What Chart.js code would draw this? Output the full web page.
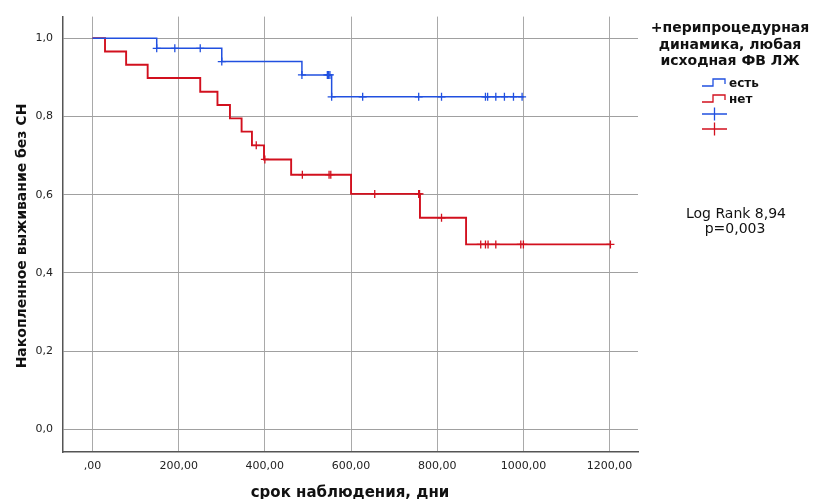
<!DOCTYPE html>
<html>
<head>
<meta charset="utf-8">
<script src="https://cdn.jsdelivr.net/npm/chart.js@4.4.1/dist/chart.umd.min.js"></script>
<style>
  html, body { margin: 0; padding: 0; background: #fff; }
  #wrap { width: 815px; height: 499px; }
</style>
</head>
<body>
<div id="wrap"><canvas id="km" width="815" height="499"></canvas></div>
<script>
// Kaplan-Meier data
const xTicks = [0, 200, 400, 600, 800, 1000, 1200];
const yTicks = [0, 0.2, 0.4, 0.6, 0.8, 1.0];

// "есть"
const yesTimes = [0, 149, 300, 486, 555];
const yesSurv = [1, 0.974, 0.940, 0.906, 0.850];
const yesEnd = 1001;
const yesCensored = [149, 191, 250, 300, 486, 545, 548, 551, 555, 627, 757, 810, 912, 917, 936, 956, 977, 997];

// "нет"
const noTimes = [0, 29, 78, 128, 250, 290, 319, 346, 370, 398, 461, 600, 760, 867];
const noSurv = [1, 0.966, 0.932, 0.898, 0.863, 0.829, 0.795, 0.761, 0.726, 0.690, 0.651, 0.602, 0.541, 0.473];
const noEnd = 1202;
const noCensored = [380, 400, 487, 549, 553, 655, 757, 759, 810, 901, 912, 918, 936, 994, 1000, 1202];

const BLUE = '#2150e0';
const RED = '#d2101e';

function stepPoints(times, surv, end) {
    const pts = times.map((t, i) => ({ x: t, y: surv[i] }));
    pts.push({ x: end, y: surv[surv.length - 1] });
    return pts;
}
function survAt(times, surv, t) {
    let v = surv[0];
    for (let i = 0; i < times.length; i++) if (times[i] <= t) v = surv[i];
    return v;
}
function censorPoints(times, surv, cens) {
    return cens.map(t => ({ x: t, y: survAt(times, surv, t) }));
}

const fmtX = v => (v === 0 ? ',00' : v + ',00');
const fmtY = v => v.toFixed(1).replace('.', ',');

// legend, stats and axis titles
const extras = {
    id: 'extras',
    afterDraw(chart) {
        const c = chart.ctx;
        c.save();
        c.fillStyle = '#111';
        c.textAlign = 'center';
        c.textBaseline = 'middle';

        c.font = 'bold 14px "DejaVu Sans"';
        c.fillText('+перипроцедурная', 730, 28);
        c.fillText('динамика, любая', 730, 45);
        c.fillText('исходная ФВ ЛЖ', 730, 61);

        // legend icons
        const step = (col, y) => {
            c.strokeStyle = col; c.lineWidth = 1.3;
            c.beginPath();
            c.moveTo(702, y + 3); c.lineTo(713, y + 3); c.lineTo(713, y - 4);
            c.lineTo(725, y - 4); c.lineTo(725, y + 1);
            c.stroke();
        };
        const plus = (col, y) => {
            c.strokeStyle = col; c.lineWidth = 1.3;
            c.beginPath();
            c.moveTo(702, y); c.lineTo(727, y);
            c.moveTo(714.5, y - 6.5); c.lineTo(714.5, y + 6.5);
            c.stroke();
        };
        step(BLUE, 83);
        step(RED, 99);
        plus(BLUE, 114);
        plus(RED, 129);

        c.textAlign = 'left';
        c.font = 'bold 12px "DejaVu Sans"';
        c.fillText('есть', 729, 84);
        c.fillText('нет', 729, 100);

        c.textAlign = 'center';
        c.font = '14px "DejaVu Sans"';
        c.fillText('Log Rank 8,94', 736, 214);
        c.fillText('p=0,003', 735, 229);

        c.font = 'bold 15px "DejaVu Sans"';
        c.fillText('срок наблюдения, дни', 350, 493);

        c.font = 'bold 14px "DejaVu Sans"';
        c.translate(22, 236);
        c.rotate(-Math.PI / 2);
        c.fillText('Накопленное выживание без СН', 0, 0);
        c.restore();
    }
};

const ctx = document.getElementById('km').getContext('2d');
new Chart(ctx, {
    type: 'line',
    data: {
        datasets: [
            {
                label: 'есть',
                data: stepPoints(yesTimes, yesSurv, yesEnd),
                borderColor: BLUE, borderWidth: 1.5,
                stepped: true, pointRadius: 0, fill: false
            },
            {
                label: 'нет',
                data: stepPoints(noTimes, noSurv, noEnd),
                borderColor: RED, borderWidth: 1.9,
                stepped: true, pointRadius: 0, fill: false
            },
            {
                type: 'scatter',
                label: 'есть цензурированные',
                data: censorPoints(yesTimes, yesSurv, yesCensored),
                pointStyle: 'cross', pointRadius: 4,
                borderColor: BLUE, borderWidth: 1.3, showLine: false
            },
            {
                type: 'scatter',
                label: 'нет цензурированные',
                data: censorPoints(noTimes, noSurv, noCensored),
                pointStyle: 'cross', pointRadius: 4,
                borderColor: RED, borderWidth: 1.3, showLine: false
            }
        ]
    },
    options: {
        responsive: false,
        animation: false,
        layout: { padding: { top: 13, right: 177, left: 0, bottom: 0 } },
        plugins: { legend: { display: false }, tooltip: { enabled: false } },
        scales: {
            x: {
                type: 'linear',
                min: -68.5, max: 1266,
                afterBuildTicks: s => { s.ticks = xTicks.map(v => ({ value: v })); },
                afterFit: s => { s.height = 47; },
                ticks: {
                    callback: fmtX, autoSkip: false, maxRotation: 0,
                    padding: 8, color: '#222', font: { family: 'DejaVu Sans', size: 11 }
                },
                grid: { color: '#a9a9a9', lineWidth: 1, drawTicks: false },
                border: { color: '#555', width: 1.5 }
            },
            y: {
                type: 'linear',
                min: -0.0575, max: 1.055,
                afterBuildTicks: s => { s.ticks = yTicks.map(v => ({ value: v })); },
                afterFit: s => { s.width = 63; },
                ticks: {
                    callback: fmtY, autoSkip: false,
                    padding: 10, color: '#222', font: { family: 'DejaVu Sans', size: 11 }
                },
                grid: { color: '#a0a0a0', lineWidth: 1, drawTicks: false },
                border: { color: '#555', width: 1.5 }
            }
        }
    },
    plugins: [extras]
});
</script>
</body>
</html>
